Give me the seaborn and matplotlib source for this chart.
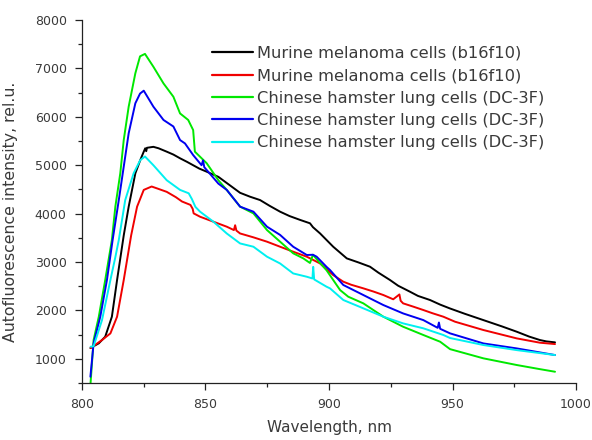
import matplotlib
matplotlib.use("Agg")
import matplotlib.pyplot as plt
import seaborn as sns
import pandas as pd
from matplotlib.ticker import MultipleLocator

# ---- data ----
labels = [
    "Murine melanoma cells (b16f10)",
    "Murine melanoma cells (b16f10) ",
    "Chinese hamster lung cells (DC-3F)",
    "Chinese hamster lung cells (DC-3F) ",
    "Chinese hamster lung cells (DC-3F)  ",
]
colors = ["#000000", "#f00000", "#00e800", "#0000f0", "#00f0f0"]

black_x = [803.4, 806.8, 809.4, 812.1, 814.2, 816.9, 818.9, 821.6, 823.6, 825, 825.6, 826, 826.3, 828.9, 831, 834.3, 837, 839.7, 842.5, 845, 847.5, 850.5, 855.2, 860, 864, 868, 872.1, 876, 880.2, 884, 888.3, 892.3, 893.5, 896.4, 901.7, 907.2, 912, 916.6, 920, 924.7, 928, 932.8, 936, 940.9, 945, 949, 955, 962.5, 970, 976, 981, 985.4, 988, 991.5]
black_y = [1223, 1320, 1457, 1870, 2628, 3550, 4143, 4833, 5107, 5280, 5350, 5290, 5360, 5380, 5350, 5280, 5220, 5143, 5070, 5000, 4930, 4866, 4760, 4580, 4430, 4350, 4280, 4160, 4040, 3950, 3870, 3800, 3720, 3590, 3316, 3075, 2990, 2903, 2780, 2628, 2510, 2386, 2300, 2215, 2120, 2040, 1930, 1800, 1670, 1560, 1460, 1388, 1360, 1340]

red_x = [803.5, 808.1, 811.5, 814.2, 816.9, 819.9, 822.3, 825, 828.2, 831, 834.3, 838, 840.5, 843.9, 844.8, 845.2, 847.8, 853.2, 858.6, 861.5, 862, 862.5, 864, 869.4, 874.9, 880.2, 885.5, 891, 896.4, 901.7, 905.8, 909, 913.9, 918, 922, 926, 928.5, 929, 930, 934, 938.2, 942, 946.3, 951, 962.5, 976, 985.4, 991.5]
red_y = [1223, 1388, 1525, 1870, 2628, 3550, 4143, 4490, 4560, 4510, 4450, 4340, 4250, 4180, 4100, 4005, 3936, 3833, 3730, 3660, 3760, 3650, 3590, 3510, 3420, 3316, 3213, 3110, 2970, 2730, 2593, 2530, 2456, 2390, 2318, 2230, 2330, 2200, 2146, 2080, 2008, 1940, 1870, 1767, 1595, 1422, 1333, 1305]

green_x = [803.4, 804.7, 806.8, 809.4, 812.1, 813.5, 815.5, 816.9, 818.9, 821.6, 823.5, 825.5, 828.9, 833, 837, 839.7, 843, 845, 845.7, 850.5, 855.2, 858.6, 864, 869.4, 874.9, 880.2, 885.5, 889.6, 892.3, 893.5, 896, 899, 904.5, 907.8, 913.9, 922, 930, 938.2, 945, 949, 962.5, 976, 985, 991.5]
green_y = [450, 1388, 1870, 2628, 3455, 4143, 4833, 5520, 6210, 6900, 7250, 7300, 7035, 6690, 6415, 6070, 5935, 5727, 5280, 5040, 4690, 4490, 4144, 4005, 3660, 3420, 3180, 3075, 2980, 3150, 3000, 2830, 2420, 2283, 2146, 1870, 1663, 1492, 1353, 1200, 1010, 872, 790, 733]

blue_x = [803.4, 804.7, 807.4, 810.1, 812.4, 814.9, 816.9, 818.9, 821.6, 823.5, 825, 828.9, 833, 837, 839.7, 841.7, 845, 848.4, 849, 849.5, 855.2, 858.6, 864, 869.4, 874.9, 880.2, 885.5, 891, 893.5, 895, 899, 900.4, 905.8, 913.9, 922, 930, 938.2, 944, 944.5, 945, 949, 962.5, 976, 991.5]
blue_y = [630, 1320, 1870, 2628, 3455, 4280, 4970, 5660, 6280, 6480, 6540, 6210, 5935, 5800, 5520, 5450, 5210, 5000, 5100, 4960, 4620, 4490, 4144, 4040, 3730, 3560, 3316, 3145, 3150, 3110, 2900, 2835, 2525, 2318, 2111, 1938, 1800, 1640, 1750, 1620, 1526, 1318, 1215, 1078]

cyan_x = [803.5, 804.7, 808.1, 811.5, 813.5, 814.9, 817.5, 820.9, 823.6, 825.5, 828.9, 834.3, 839.7, 843.2, 844.5, 845.9, 847.8, 853.2, 858.6, 864, 869.4, 874.9, 880.2, 885.5, 891, 893.3, 893.6, 894, 899, 900.4, 905.8, 913.9, 922, 930, 938.2, 946.3, 949, 962.5, 976, 991.5]
cyan_y = [1250, 1260, 1800, 2628, 3100, 3455, 4280, 4833, 5107, 5180, 5000, 4690, 4490, 4420, 4300, 4140, 4040, 3833, 3590, 3384, 3316, 3110, 2970, 2764, 2696, 2660, 2900, 2640, 2490, 2456, 2215, 2043, 1870, 1732, 1630, 1492, 1430, 1285, 1180, 1078]

series_x = [black_x, red_x, green_x, blue_x, cyan_x]
series_y = [black_y, red_y, green_y, blue_y, cyan_y]

x_ticks = [800, 850, 900, 950, 1000]
y_ticks = [1000, 2000, 3000, 4000, 5000, 6000, 7000, 8000]

frames = []
for lab, xs, ys in zip(labels, series_x, series_y):
    frames.append(pd.DataFrame({"Wavelength": xs, "Intensity": ys, "Series": lab}))
df = pd.concat(frames, ignore_index=True)

sns.set_theme(style="ticks")
plt.rcParams["font.family"] = ["DejaVu Sans"]

fig = plt.figure(figsize=(5.92, 4.40), dpi=100)
ax = fig.add_axes([0.1385, 0.1295, 0.8345, 0.825])

sns.lineplot(data=df, x="Wavelength", y="Intensity", hue="Series",
             hue_order=labels, palette=colors, sort=False, estimator=None,
             linewidth=1.4, ax=ax)

ax.set_xlim(800, 1000)
ax.set_ylim(500, 8000)
ax.set_xticks(x_ticks)
ax.set_yticks(y_ticks)
ax.xaxis.set_minor_locator(MultipleLocator(25))
ax.yaxis.set_minor_locator(MultipleLocator(500))
ax.tick_params(which="major", direction="out", length=5, width=0.9, color="#222222",
               labelsize=9, labelcolor="#3a3a3a", pad=6)
ax.tick_params(which="minor", direction="out", length=3, width=0.9, color="#222222")
for s in ["top", "right"]:
    ax.spines[s].set_visible(False)
for s in ["left", "bottom"]:
    ax.spines[s].set_linewidth(0.9)
    ax.spines[s].set_color("#222222")

ax.set_xlabel("Wavelength, nm", fontsize=11, color="#3a3a3a", labelpad=6)
ax.set_ylabel("Autofluorescence intensity, rel.u.", fontsize=11.3, color="#3a3a3a")
ax.yaxis.set_label_coords(-0.13, 0.471)

leg = ax.legend(loc="upper left", bbox_to_anchor=(212 / 592, 1 - 46 / 440),
                bbox_transform=fig.transFigure, frameon=False,
                fontsize=11.7, handlelength=2.5, handletextpad=0.25,
                labelspacing=0.45, borderpad=0, borderaxespad=0)
for t in leg.get_texts():
    t.set_color("#3a3a3a")
for l in leg.get_lines():
    l.set_linewidth(1.6)

fig.savefig("out.png", dpi=100)
